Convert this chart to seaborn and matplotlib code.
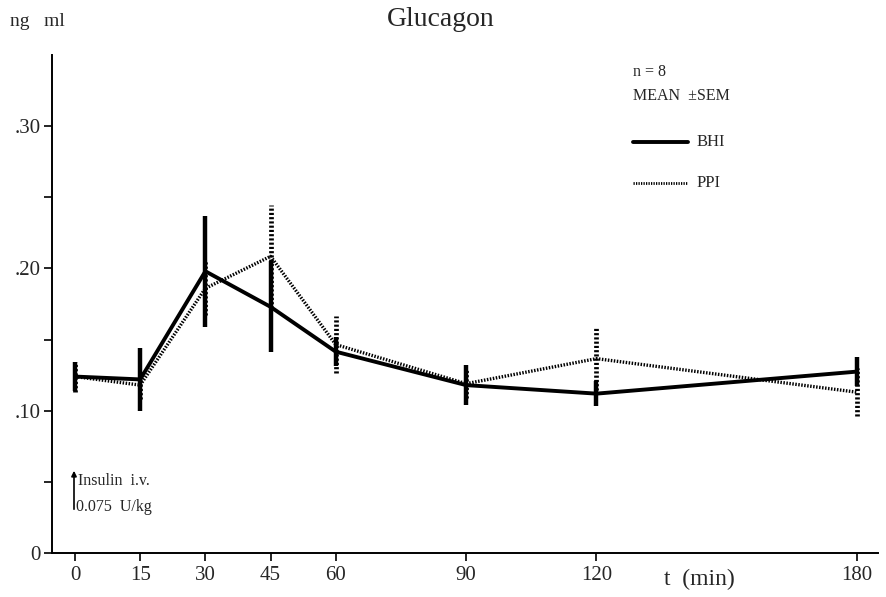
import numpy as np
import pandas as pd
import matplotlib
matplotlib.use("Agg")
import matplotlib.pyplot as plt
import seaborn as sns

# time points (min)
times = [0, 15, 30, 45, 60, 90, 120, 180]

# glucagon, ng/ml, mean and SEM
bhi_mean = [0.124, 0.122, 0.198, 0.173, 0.1415, 0.118, 0.112, 0.1275]
bhi_sem = [0.010, 0.022, 0.039, 0.032, 0.010, 0.014, 0.009, 0.010]
ppi_mean = [0.124, 0.118, 0.186, 0.2085, 0.1465, 0.119, 0.1366, 0.113]
ppi_sem = [0.0105, 0.010, 0.019, 0.036, 0.020, 0.010, 0.022, 0.017]

y_ticks = [0, 0.10, 0.20, 0.30]
y_ticklabels = ["0", ".10", ".20", ".30"]

sns.set_style("ticks")
plt.rcParams["font.family"] = ["Liberation Serif", "DejaVu Serif"]

df = pd.DataFrame({
    "t": times * 2,
    "glucagon": bhi_mean + ppi_mean,
    "sem": bhi_sem + ppi_sem,
    "group": ["BHI"] * len(times) + ["PPI"] * len(times),
})

fig = plt.figure(figsize=(8.86, 5.97), dpi=100)
ax = fig.add_axes([52 / 886, 1 - 553 / 597, (878 - 52) / 886, (553 - 55) / 597])

dot = (0, (0.45, 0.45))
styles = {"BHI": dict(ls="-", lw=2.8), "PPI": dict(ls=dot, lw=2.4)}
for g, sub in df.groupby("group"):
    sns.lineplot(data=sub, x="t", y="glucagon", ax=ax, color="black",
                 linestyle=styles[g]["ls"], linewidth=styles[g]["lw"],
                 legend=False, zorder=3 if g == "BHI" else 2)
    ax.vlines(sub["t"], sub["glucagon"] - sub["sem"], sub["glucagon"] + sub["sem"],
              colors="black", linestyles=styles[g]["ls"],
              linewidth=styles[g]["lw"] + (0.4 if g == "BHI" else 1.0),
              zorder=3 if g == "BHI" else 2)

ax.set_xlim(-5.3, 184.8)
ax.set_ylim(0, 0.35)
ax.set_xticks(times)
ax.set_xticklabels([str(t) for t in times], fontsize=15)
ax.set_yticks(y_ticks)
ax.set_yticklabels(y_ticklabels, fontsize=15)
ax.set_yticks([0.05, 0.15, 0.25], minor=True)
ax.tick_params(axis="both", which="both", direction="out", length=6, width=1.2, color="black")
ax.tick_params(axis="x", pad=3)
ax.tick_params(axis="y", pad=2)
ax.set_xlabel("")
ax.set_ylabel("")
for s in ["top", "right"]:
    ax.spines[s].set_visible(False)
for s in ["left", "bottom"]:
    ax.spines[s].set_linewidth(1.4)
    ax.spines[s].set_color("black")

# headings
fig.text(10 / 886, 1 - 22 / 597, "ng   ml", fontsize=14, va="center", ha="left")
fig.text(441 / 886, 1 - 20 / 597, "Glucagon", fontsize=20, va="center", ha="center")
fig.text(699 / 886, 1 - 579 / 597, "t  (min)", fontsize=17, va="center", ha="center")

# legend block
fig.text(633 / 886, 1 - 72 / 597, "n = 8", fontsize=11.5, va="center", ha="left")
fig.text(633 / 886, 1 - 96 / 597, "MEAN  \u00b1SEM", fontsize=11.5, va="center", ha="left")
fig.lines.append(plt.Line2D([633 / 886, 688 / 886], [1 - 142 / 597] * 2,
                            transform=fig.transFigure, color="black", lw=2.8))
fig.lines.append(plt.Line2D([633 / 886, 688 / 886], [1 - 183 / 597] * 2,
                            transform=fig.transFigure, color="black", lw=2.0, ls=dot))
fig.text(697 / 886, 1 - 142 / 597, "BHI", fontsize=12, va="center", ha="left")
fig.text(697 / 886, 1 - 183 / 597, "PPI", fontsize=12, va="center", ha="left")

# insulin injection marker
fig.patches.append(matplotlib.patches.FancyArrowPatch(
    (74 / 886, 1 - 512 / 597), (74 / 886, 1 - 468 / 597), transform=fig.transFigure,
    arrowstyle="-|>,head_length=3,head_width=1.5", color="black", lw=1.2))
fig.text(78 / 886, 1 - 481 / 597, "Insulin  i.v.", fontsize=11.5, va="center", ha="left")
fig.text(76 / 886, 1 - 507 / 597, "0.075  U/kg", fontsize=11.5, va="center", ha="left")

fig.savefig("out.png", dpi=100)
